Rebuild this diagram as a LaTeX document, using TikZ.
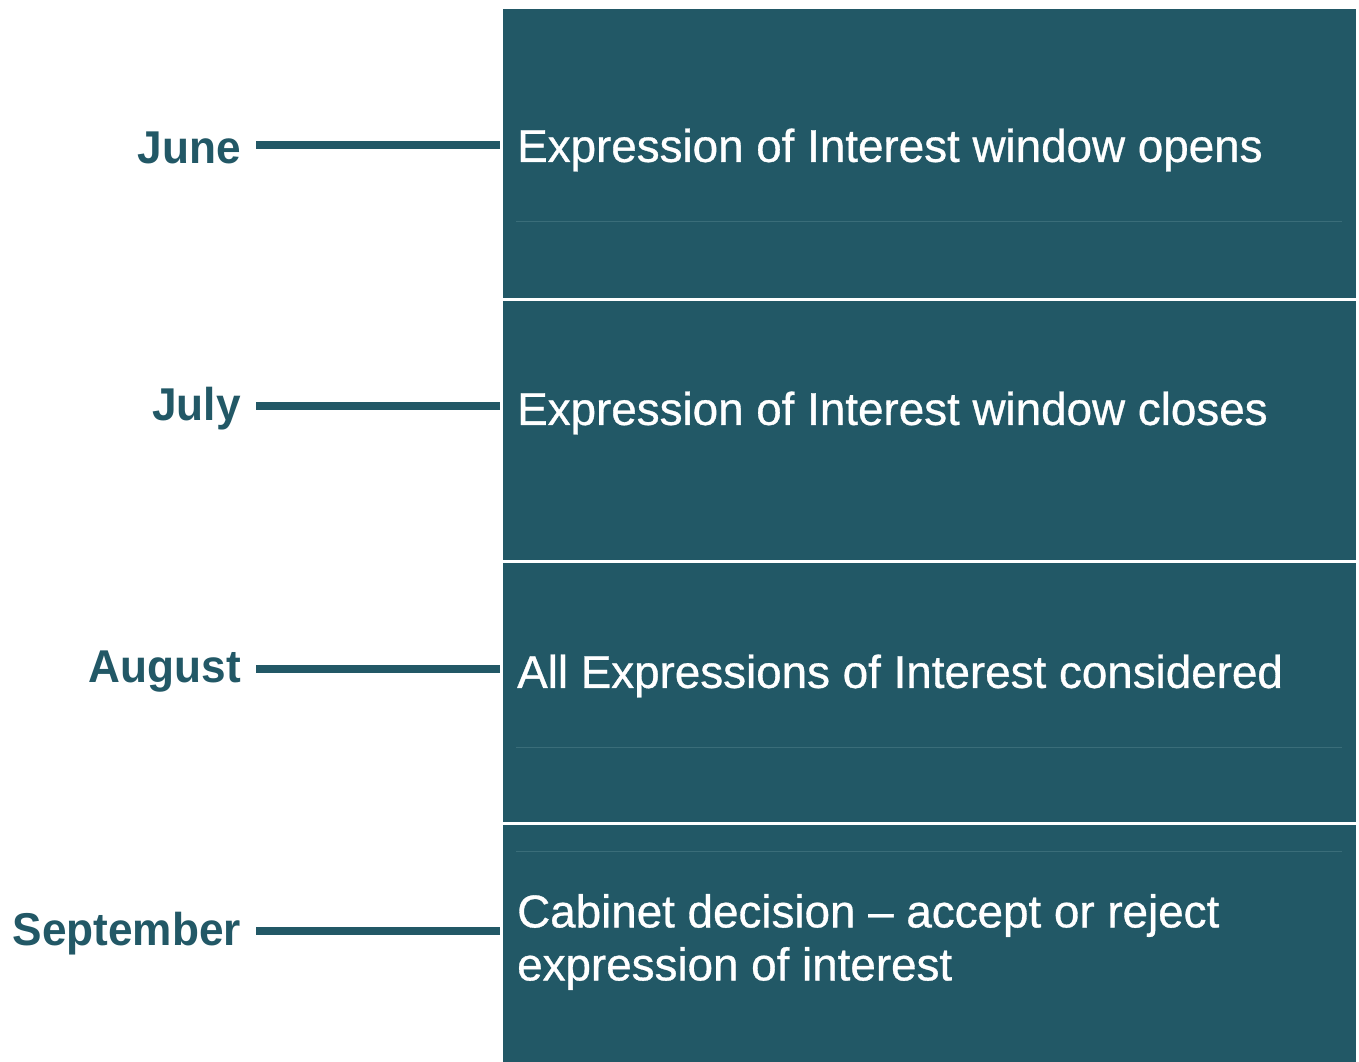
\documentclass[tikz,border=0pt]{standalone}
\usepackage{fontspec}
\setmainfont{Liberation Sans}
\newfontfamily\monthfont{Liberation Sans}[FakeStretch=0.96]
\newfontfamily\eventfont{Liberation Sans}[FakeStretch=0.995,FakeBold=0.7]
\definecolor{teal}{HTML}{225866}
\definecolor{faint}{HTML}{3A6D79}
\begin{document}
\begin{tikzpicture}[x=1pt,y=-1pt,
  box/.style={fill=teal,draw=none},
  month/.style={anchor=east,text=teal,font=\monthfont\fontsize{46}{52}\selectfont\bfseries,inner sep=0pt},
  event/.style={anchor=west,text=white,font=\eventfont\fontsize{46}{53}\selectfont,inner sep=0pt,align=left},
  conn/.style={draw=teal,line width=8pt},
  sep/.style={draw=faint,line width=1pt}]
\useasboundingbox (0,0) rectangle (1359,1062);
\fill[white] (0,0) rectangle (1359,1062);
\path[box] (503,9) rectangle (1356,298);
\path[box] (503,301) rectangle (1356,560);
\path[box] (503,563) rectangle (1356,822);
\path[box] (503,825) rectangle (1356,1062);
\draw[sep] (516,221) -- (1342,221);
\draw[sep] (516,747) -- (1342,747);
\draw[sep] (516,851) -- (1342,851);
\node[month] (m1) at (241,148) {June};
\node[month] (m2) at (241,409) {July};
\node[month] (m3) at (241,672) {August};
\node[month] (m4) at (241,934) {September};
\coordinate (c1) at (256,145);
\coordinate (c2) at (256,406);
\coordinate (c3) at (256,669);
\coordinate (c4) at (256,931);
\coordinate (d1) at (500,145);
\coordinate (d2) at (500,406);
\coordinate (d3) at (500,669);
\coordinate (d4) at (500,931);
\draw[conn] (c1) -- (d1);
\draw[conn] (c2) -- (d2);
\draw[conn] (c3) -- (d3);
\draw[conn] (c4) -- (d4);
\node[event] (e1) at (517,150) {Expression of Interest window opens};
\node[event] (e2) at (517,413) {Expression of Interest window closes};
\node[event] (e3) at (517,676) {All Expressions of Interest considered};
\node[event] (e4) at (517,942) {Cabinet decision – accept or reject\\expression of interest};
\end{tikzpicture}
\end{document}
